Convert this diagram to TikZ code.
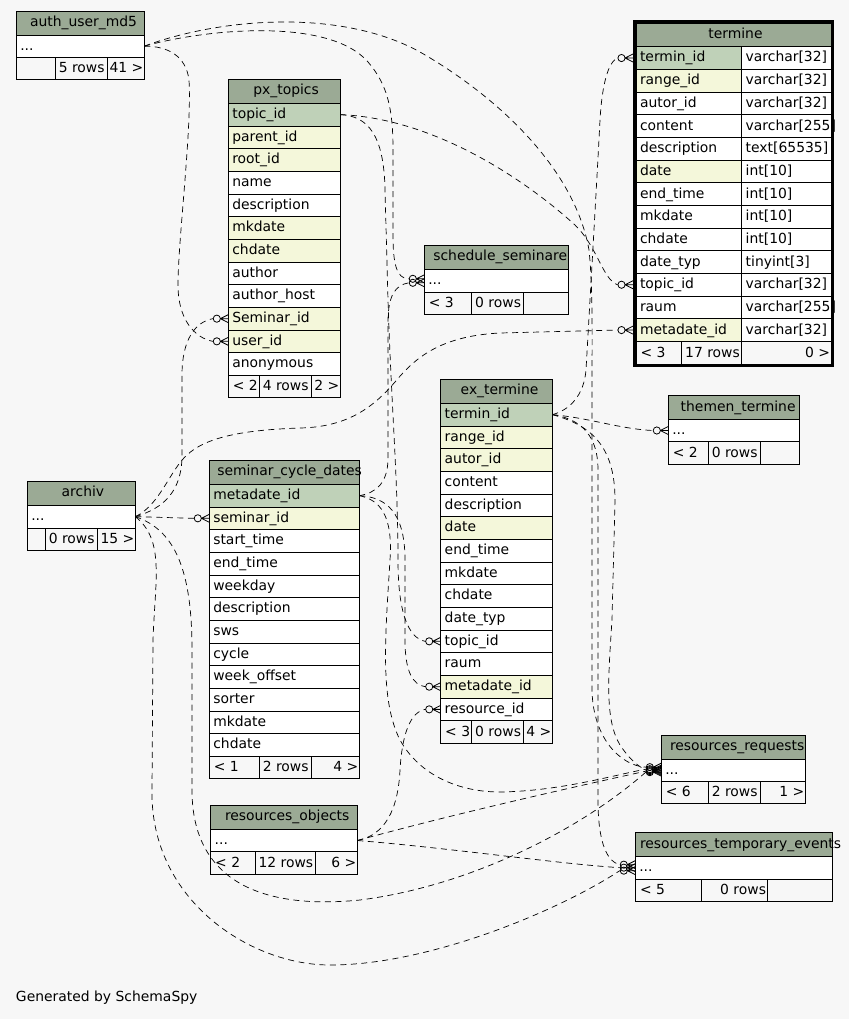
\documentclass[tikz,border=0pt]{standalone}
\usepackage{fontspec}
\setmainfont{DejaVu Sans}
\definecolor{hdr}{HTML}{9BAA95}
\definecolor{pk}{HTML}{BFD1B8}
\definecolor{fk}{HTML}{F4F7DA}
\definecolor{bg}{HTML}{F7F7F7}
\tikzset{
  cellbox/.style={draw=black, line width=0.9pt, inner sep=0pt, outer sep=0pt},
  celltext/.style={inner sep=0pt, outer sep=0pt, font=\fontsize{13.9}{17}\selectfont},
  rel/.style={draw=black, line width=0.7pt, dash pattern=on 6pt off 4.5pt},
  crowodot/.pic={
    \draw[line width=0.8pt,solid] (-11.5,0) circle[radius=3.6pt];
    \draw[line width=0.8pt,solid] (-8,0) -- (0,4) (-8,0) -- (0,-4) (-8,0) -- (0,0);
  }
}
\newcommand\erdbox[6]{%
  \pgfmathsetmacro\erdw{#4-(#2)}\pgfmathsetmacro\erdh{#5-(#3)}%
  \node[cellbox, fill=#6, minimum width=\erdw pt, minimum height=\erdh pt, anchor=north west] (#1) at (#2,#3) {};}
\newcommand\erdcell[7]{%
  \erdbox{#1}{#2}{#3}{#4}{#5}{#6}%
  \node[celltext, anchor=base west] (#1-t) at (#2+4,#3+15.3) {#7};}
\newcommand\erdrow[7]{%
  \pgfmathsetmacro\ya{#4+#5*22.67}\pgfmathsetmacro\yb{#4+(#5+1)*22.67}%
  \erdcell{#1}{#2}{\ya}{#3}{\yb}{#6}{#7}}
\newcommand\erdhead[7]{%
  \erdbox{#1}{#2}{#3}{#4}{#5}{hdr}%
  \node[celltext, anchor=base west] (#1-t) at (#6,#3+15.3) {#7};}
\newcommand\erdfoot[9]{%
  \pgfmathsetmacro\yb{#6+22.5}%
  \erdbox{#1-a}{#2}{#6}{#3}{\yb}{bg}%
  \erdbox{#1-b}{#3}{#6}{#4}{\yb}{bg}%
  \erdbox{#1-c}{#4}{#6}{#5}{\yb}{bg}%
  \node[celltext,anchor=base west] (#1-ta) at (#2+4.5,#6+15.3) {#7};%
  \node[celltext,anchor=base west] (#1-tb) at (#3+3.5,#6+15.3) {#8};%
  \node[celltext,anchor=base east] (#1-tc) at (#5-1,#6+15.3) {#9};}
\begin{document}
\begin{tikzpicture}[x=1pt,y=-1pt]
\useasboundingbox (0,0) rectangle (849,1019);
\fill[bg] (0,0) rectangle (849,1019);

% auth_user_md5
\erdhead{auth-h}{16.3}{11.7}{144.3}{35}{30}{auth\_user\_md5}
\erdcell{auth-r0}{16.3}{35}{144.3}{57.3}{white}{...}
\erdfoot{auth-f}{16.3}{55.3}{107.3}{144.3}{57.3}{}{5 rows}{41 >}

% px_topics
\erdhead{px-h}{228.3}{79.3}{340.3}{103.3}{253.3}{px\_topics}
\foreach \cname/\cfill [count=\i from 0] in {topic\_id/pk, parent\_id/fk, root\_id/fk, name/white, description/white, mkdate/fk, chdate/fk, author/white, author\_host/white, Seminar\_id/fk, user\_id/fk, anonymous/white}
  {\erdrow{px-r\i}{228.3}{340.3}{103.3}{\i}{\cfill}{\cname}}
\erdfoot{px-f}{228.3}{259.3}{311.3}{340.3}{375.3}{< 2}{4 rows}{2 >}

% termine
\erdhead{tm-h}{636}{23.3}{831}{46.7}{708.3}{termine}
\foreach \cname/\cfill/\ctype [count=\i from 0] in {termin\_id/pk/varchar[32], range\_id/fk/varchar[32], autor\_id/white/varchar[32], content/white/varchar[255], description/white/text[65535], date/fk/int[10], end\_time/white/int[10], mkdate/white/int[10], chdate/white/int[10], date\_typ/white/tinyint[3], topic\_id/white/varchar[32], raum/white/varchar[255], metadate\_id/fk/varchar[32]}
  {\erdrow{tm-r\i}{636}{741.7}{46.7}{\i}{\cfill}{\cname}\erdrow{tm-s\i}{741.7}{831}{46.7}{\i}{white}{\ctype}}
\erdfoot{tm-f}{636}{681.7}{741.7}{831}{341.7}{< 3}{17 rows}{0 >}
\draw[line width=3pt] (634.5,22) rectangle (832.3,365.4);

% schedule_seminare
\erdhead{ss-h}{424.3}{245.3}{568.3}{269.3}{433.3}{schedule\_seminare}
\erdcell{ss-r0}{424.3}{269.3}{568.3}{292.3}{white}{...}
\erdfoot{ss-f}{424.3}{471.7}{523.3}{568.3}{292.3}{< 3}{0 rows}{}

% ex_termine
\erdhead{ex-h}{440.7}{379.3}{552.3}{403.3}{460.7}{ex\_termine}
\foreach \cname/\cfill [count=\i from 0] in {termin\_id/pk, range\_id/fk, autor\_id/fk, content/white, description/white, date/fk, end\_time/white, mkdate/white, chdate/white, date\_typ/white, topic\_id/white, raum/white, metadate\_id/fk, resource\_id/white}
  {\erdrow{ex-r\i}{440.7}{552.3}{403.3}{\i}{\cfill}{\cname}}
\erdfoot{ex-f}{440.7}{471.7}{523.3}{552.3}{720.7}{< 3}{0 rows}{4 >}

% themen_termine
\erdhead{tt-h}{668.3}{395.7}{799.3}{419.3}{680.7}{themen\_termine}
\erdcell{tt-r0}{668.3}{419.3}{799.3}{441.7}{white}{...}
\erdfoot{tt-f}{668.3}{708.3}{760.3}{799.3}{441.7}{< 2}{0 rows}{}

% seminar_cycle_dates
\erdhead{scd-h}{209.3}{460.3}{359.3}{484.3}{217.3}{seminar\_cycle\_dates}
\foreach \cname/\cfill [count=\i from 0] in {metadate\_id/pk, seminar\_id/fk, start\_time/white, end\_time/white, weekday/white, description/white, sws/white, cycle/white, week\_offset/white, sorter/white, mkdate/white, chdate/white}
  {\erdrow{scd-r\i}{209.3}{359.3}{484.3}{\i}{\cfill}{\cname}}
\erdfoot{scd-f}{209.3}{259.3}{311.3}{359.3}{756.3}{< 1}{2 rows}{4 >}

% archiv
\erdhead{arch-h}{27.3}{481.3}{135.3}{505.3}{61.7}{archiv}
\erdcell{arch-r0}{27.3}{505.3}{135.3}{528}{white}{...}
\erdfoot{arch-f}{27.3}{45.3}{97.3}{135.3}{528}{}{0 rows}{15 >}

% resources_objects
\erdhead{ro-h}{210.7}{805.3}{357.3}{829.3}{225}{resources\_objects}
\erdcell{ro-r0}{210.7}{829.3}{357.3}{851.7}{white}{...}
\erdfoot{ro-f}{210.7}{255}{315.3}{357.3}{851.7}{< 2}{12 rows}{6 >}

% resources_requests
\erdhead{rr-h}{661.3}{735.3}{805.3}{759.3}{670}{resources\_requests}
\erdcell{rr-r0}{661.3}{759.3}{805.3}{781}{white}{...}
\erdfoot{rr-f}{661.3}{708.3}{760.7}{805.3}{781}{< 6}{2 rows}{1 >}

% resources_temporary_events
\erdhead{rte-h}{635.3}{832.7}{832.3}{856}{640}{resources\_temporary\_events}
\erdcell{rte-r0}{635.3}{856}{832.3}{879.3}{white}{...}
\erdbox{rte-fa}{635.3}{879.3}{701.3}{901.5}{bg}
\erdbox{rte-fb}{701.3}{879.3}{767.3}{901.5}{bg}
\erdbox{rte-fc}{767.3}{879.3}{832.3}{901.5}{bg}
\node[celltext,anchor=base west] (rte-ta) at (640,894.6) {< 5};
\node[celltext,anchor=base east] (rte-tb) at (766,894.6) {0 rows};

% relationships
\draw[rel] (auth-r0.east) .. controls (168,46) and (186,56) .. (189,80) .. controls (192,130) and (178,240) .. (178,285) .. controls (178,320) and (195,338) .. ([xshift=-15.5pt]px-r10.west);
\draw[rel] (arch-r0.east) .. controls (165,508) and (182,490) .. (182,455) -- (182,375) .. controls (182,340) and (195,322) .. ([xshift=-15.5pt]px-r9.west);
\draw[rel] (auth-r0.east) .. controls (210,28) and (330,18) .. (368,62) .. controls (388,85) and (393,110) .. (393,150) -- (393,235) .. controls (393,262) and (396,279) .. ([xshift=-15.5pt,yshift=2pt]ss-r0.west);
\draw[rel] (auth-r0.east) .. controls (220,18) and (340,8) .. (420,52) .. controls (500,98) and (575,170) .. (589,250) .. controls (593,290) and (592,330) .. (592,400) -- (592,690) .. controls (593,740) and (622,766) .. ([xshift=-15.5pt,yshift=3pt]rr-r0.west);
\draw[rel] (px-r0.east) .. controls (430,118) and (520,175) .. (575,225) .. controls (597,246) and (603,280) .. ([xshift=-18.5pt]tm-r10.west);
\draw[rel] (px-r0.east) .. controls (368,116) and (384,135) .. (385,190) -- (388,300) .. controls (391,400) and (398,480) .. (398,560) .. controls (398,612) and (408,638) .. ([xshift=-15.5pt]ex-r10.west);
\draw[rel] (scd-r0.east) .. controls (376,493) and (388,483) .. (388,458) -- (388,322) .. controls (388,296) and (395,285) .. ([xshift=-15.5pt,yshift=-2pt]ss-r0.west);
\draw[rel] (scd-r0.east) .. controls (386,497) and (405,512) .. (405,560) -- (405,640) .. controls (405,672) and (413,685) .. ([xshift=-15.5pt]ex-r12.west);
\draw[rel] (scd-r0.east) .. controls (380,500) and (393,515) .. (390,560) .. controls (385,640) and (380,700) .. (400,740) .. controls (420,776) and (460,792) .. (500,792) .. controls (560,791) and (610,776) .. ([xshift=-15.5pt,yshift=1pt]rr-r0.west);
\draw[rel] (arch-r0.east) .. controls (160,505) and (170,470) .. (187,455) .. controls (205,438) and (240,430) .. (300,428) .. controls (350,427) and (375,405) .. (395,382) .. controls (415,358) and (440,336) .. (500,333) -- ([xshift=-18.5pt]tm-r12.west);
\draw[rel] (arch-r0.east) -- ([xshift=-15.5pt]scd-r1.west);
\draw[rel] (arch-r0.east) .. controls (175,530) and (192,570) .. (192,650) -- (192,790) .. controls (192,880) and (260,910) .. (360,900) .. controls (470,886) and (580,830) .. ([xshift=-15.5pt,yshift=-2pt]rr-r0.west);
\draw[rel] (arch-r0.east) .. controls (165,540) and (155,580) .. (153,640) -- (152,790) .. controls (150,900) and (250,965) .. (330,965) .. controls (430,965) and (560,910) .. ([xshift=-15.5pt,yshift=-3pt]rte-r0.west);
\draw[rel] (ex-r0.east) .. controls (570,410) and (584,395) .. (586,370) .. controls (590,300) and (598,160) .. (600,120) .. controls (602,85) and (608,62) .. ([xshift=-18.5pt]tm-r0.west);
\draw[rel] (ex-r0.east) .. controls (590,418) and (620,429) .. ([xshift=-15.5pt]tt-r0.west);
\draw[rel] (ex-r0.east) .. controls (590,425) and (615,445) .. (615,500) -- (612,620) .. controls (608,680) and (605,720) .. (620,745) .. controls (630,760) and (638,766) .. ([xshift=-15.5pt]rr-r0.west);
\draw[rel] (ex-r0.east) .. controls (575,418) and (598,430) .. (598,470) -- (598,800) .. controls (598,845) and (608,862) .. ([xshift=-15.5pt,yshift=3pt]rte-r0.west);
\draw[rel] (ro-r0.east) .. controls (385,835) and (398,810) .. (400,770) .. controls (402,735) and (410,712) .. ([xshift=-15.5pt]ex-r13.west);
\draw[rel] (ro-r0.east) .. controls (450,815) and (560,790) .. ([xshift=-15.5pt,yshift=-1pt]rr-r0.west);
\draw[rel] (ro-r0.east) .. controls (450,848) and (560,864) .. ([xshift=-15.5pt]rte-r0.west);

% child-end markers
\pic at (px-r10.west) {crowodot};
\pic at (px-r9.west) {crowodot};
\pic at ([yshift=2pt]ss-r0.west) {crowodot};
\pic at ([yshift=-2pt]ss-r0.west) {crowodot};
\pic at ([xshift=-3pt]tm-r0.west) {crowodot};
\pic at ([xshift=-3pt]tm-r10.west) {crowodot};
\pic at ([xshift=-3pt]tm-r12.west) {crowodot};
\pic at (ex-r10.west) {crowodot};
\pic at (ex-r12.west) {crowodot};
\pic at (ex-r13.west) {crowodot};
\pic at (tt-r0.west) {crowodot};
\pic at (scd-r1.west) {crowodot};
\pic at ([yshift=3pt]rr-r0.west) {crowodot};
\pic at ([yshift=1pt]rr-r0.west) {crowodot};
\pic at (rr-r0.west) {crowodot};
\pic at ([yshift=-1pt]rr-r0.west) {crowodot};
\pic at ([yshift=-2pt]rr-r0.west) {crowodot};
\pic at ([yshift=3pt]rte-r0.west) {crowodot};
\pic at (rte-r0.west) {crowodot};
\pic at ([yshift=-3pt]rte-r0.west) {crowodot};

\node[celltext, anchor=base west] (gen) at (16,1001) {Generated by SchemaSpy};
\end{tikzpicture}
\end{document}
